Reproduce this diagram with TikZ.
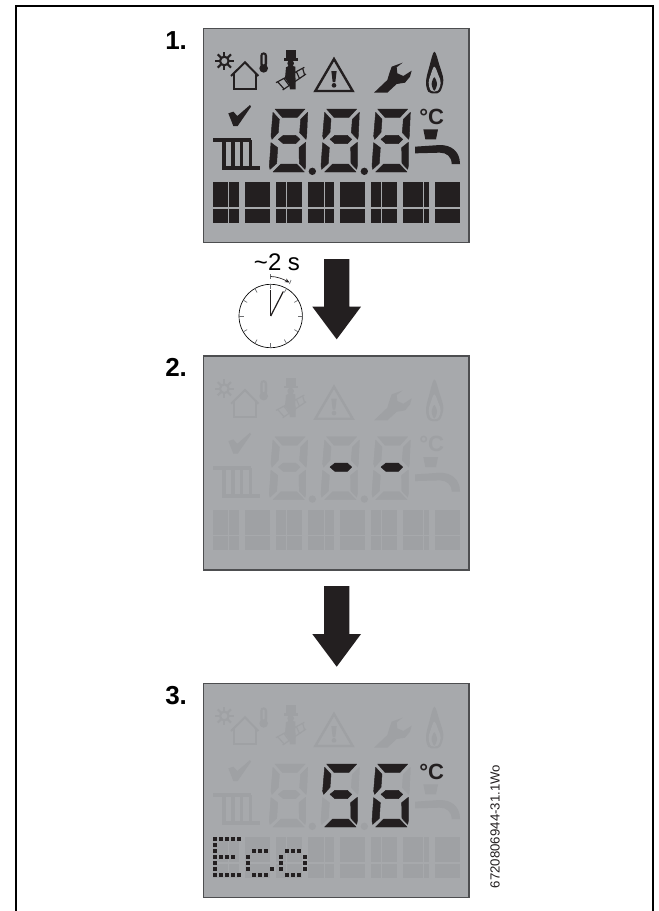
\documentclass[tikz,border=0pt]{standalone}
\usepackage{fontspec}
\setmainfont{Liberation Sans}
\usetikzlibrary{arrows.meta,calc}
\definecolor{lcdbg}{HTML}{A7A9AC}
\definecolor{lcdedge}{HTML}{4D4E50}
\definecolor{lcdghost}{HTML}{9FA1A4}
\definecolor{lcdink}{HTML}{231F20}
\definecolor{tickgrey}{HTML}{6D6E71}
\tikzset{
  panelbox/.style={fill=lcdbg,draw=lcdedge,line width=1pt},
  steplabel/.style={font=\fontsize{19.5}{20}\selectfont\bfseries,anchor=base west,inner sep=0pt,text=black},
  bigarrow/.style={fill=lcdink,draw=none},
  zoomunits/.style={x=.25pt,y=-.25pt}
}
% seven-segment paths, local coordinates
\def\pT{(30,27)--(120,27)--(97,52)--(52,52)--cycle}
\def\pUL{(24,37)--(43,58)--(40,97)--(21,118)--(18,108)--cycle}
\def\pUR{(128,37)--(125,108)--(123,118)--(104,98)--(107,58)--cycle}
\def\pM{(40,118)--(55,106)--(92,106)--(105,118)--(92,131)--(55,131)--cycle}
\def\pLL{(18,128)--(38,143)--(35,190)--(15,208)--(13,198)--cycle}
\def\pLR{(122,127)--(122,198)--(120,208)--(103,190)--(102,143)--cycle}
\def\pB{(48,192)--(95,192)--(118,216)--(24,216)--cycle}
\newcommand\dseg[3]{\filldraw[#1,shift={(#2,270)},line width=.35pt,line join=round] #3;}
\newcommand\lcdghostdigit[2]{%
  \foreach \s in {\pT,\pUL,\pUR,\pM,\pLL,\pLR,\pB}{\dseg{#1}{#2}{\s}}}
\newcommand\lcdart[1]{%
 \begin{scope}[color=#1]
  % sun
  \draw[line width=1.6pt] (223,153) circle (13);
  \foreach \a in {0,45,...,315}{\draw[line width=1.6pt] (223,153) ++(\a:13) -- ++(\a:15);}
  % house
  \draw[line width=1.5pt,line join=miter] (243,198)--(285,157)--(325,198);
  \draw[line width=1.5pt] (253,188)--(253,238)--(317,238)--(317,188);
  % thermometer
  \fill[rounded corners=2.4pt] (331,127) rectangle (351,172);
  \fill (341,175) circle (13);
  \fill[lcdbg,rounded corners=.6pt] (338,134) rectangle (344,163);
  % sweep
  \fill (409,120) rectangle (437,146);
  \fill (401,145) rectangle (443,152);
  \fill (422,160) circle (10);
  \fill (408,172)--(420,166)--(436,170)--(437,238)--(420,238)--(417,222)--(405,205)--cycle;
  \draw[line width=.9pt] (378,218)--(463,172);
  \draw[line width=.9pt] (398,240)--(468,192);
  \foreach \t in {.06,.28,.5,.72,.94}{\draw[line width=.9pt] ($(378,218)!\t!(463,172)$)--($(398,240)!\t!(468,192)$);}
  % warning sign
  \draw[line width=1.8pt,line join=miter] (552,147)--(496,243)--(608,243)--cycle;
  \fill (544,183)--(560,183)--(556,216)--(548,216)--cycle;
  \fill (552,226) circle (7);
  % wrench
  \fill (672,248)--(712,210)--(718,190)--(725,170)--(758,158)--(740,172)--(742,190)--(760,198)--(785,182)--(780,200)--(765,218)--(740,222)--(712,248)--cycle;
  % flame
  \fill plot[smooth cycle,tension=.6] coordinates {(853,125)(868,165)(880,210)(870,245)(853,250)(835,245)(828,215)(838,170)};
  \fill[lcdbg] plot[smooth cycle,tension=.6] coordinates {(853,170)(865,195)(872,218)(863,242)(843,242)(836,218)(842,195)};
  \fill plot[smooth cycle,tension=.6] coordinates {(853,202)(861,222)(853,242)(845,222)};
  % check mark
  \fill (235,310)--(250,305)--(262,318)--(300,285)--(303,290)--(263,348)--(250,348)--cycle;
  % radiator
  \fill (189,385) rectangle (303,397);
  \foreach \x in {217,244,270,296}{\fill (\x,390) rectangle (\x+10,472);}
  \fill (215,468) rectangle (330,480);
  % cup and tap
  \fill (820,358)--(864,358)--(858,388)--(826,388)--cycle;
  \fill (795,410)--(870,405) .. controls (905,405) and (930,425) .. (930,462) -- (905,462) .. controls (905,440) and (890,428) .. (870,428) -- (795,430) -- cycle;
 \end{scope}}
\newcommand\lcdband[1]{%
  \foreach \a/\b in {189/267,285/360,379/456,474/551,570/645,663/741,759/837,855/930}{\fill[#1] (\a,517) rectangle (\b,638);}
  \foreach \a/\b in {235/238,408/411,522/525,693/696,820/823}{\fill[lcdbg] (\a,517) rectangle (\b,638);}
  \foreach \a/\b in {189/267,285/360,379/456,474/551,570/645,663/741,759/837,855/930}{\fill[lcdbg] (\a,592) rectangle (\b,596);}}
\newcommand\lcddots[1]{\fill[#1] (487,484) circle (11); \fill[#1] (643,484) circle (11);}
\newcommand\lcddeg[2]{\node[font=\fontsize{16.5}{17}\selectfont\bfseries,text=#1,inner sep=0pt] (deg#2) at (845,320) {°C};}
\newcommand\edot[2]{\fill[lcdink] (#1-6,#2-6) rectangle (#1+6,#2+6);}
\begin{document}
\begin{tikzpicture}[x=.75pt,y=-.75pt]
\useasboundingbox (0,0) rectangle (658,911);
\fill[white] (0,0) rectangle (658,911);
% outer frame
\draw[line width=1.6pt,line join=miter,black] (16,911)--(16,6)--(653,6)--(653,911);

% panel 1
\begin{scope}[zoomunits,shift={(112.5pt,-7.5pt)}]
 \draw[panelbox] (160,55) rectangle (957,697);
 \lcdart{lcdink}
 \lcdghostdigit{lcdink}{345}
 \lcdghostdigit{lcdink}{500}
 \lcdghostdigit{lcdink}{653}
 \lcddots{lcdink}
 \lcdband{lcdink}
 \lcddeg{lcdink}{A}
\end{scope}

% panel 2
\begin{scope}[zoomunits,shift={(112.5pt,-253.3pt)}]
 \draw[panelbox] (160,55) rectangle (957,697);
 \lcdart{lcdghost}
 \lcdghostdigit{lcdghost}{345}
 \lcdghostdigit{lcdghost}{500}
 \lcdghostdigit{lcdghost}{653}
 \lcddots{lcdghost}
 \lcdband{lcdghost}
 \lcddeg{lcdghost}{B}
 \dseg{lcdink}{500}{\pM}
 \dseg{lcdink}{653}{\pM}
\end{scope}

% panel 3
\begin{scope}[zoomunits,shift={(112.5pt,-498.75pt)}]
 \draw[panelbox] (160,55) rectangle (957,697);
 \lcdart{lcdghost}
 \lcdghostdigit{lcdghost}{345}
 \lcdghostdigit{lcdghost}{500}
 \lcdghostdigit{lcdghost}{653}
 \lcddots{lcdghost}
 \lcdband{lcdghost}
 \lcddeg{lcdink}{C}
 \foreach \s in {\pT,\pUL,\pM,\pLR,\pB}{\dseg{lcdink}{500}{\s}}
 \foreach \s in {\pT,\pUL,\pM,\pLL,\pLR,\pB}{\dseg{lcdink}{653}{\s}}
 % Eco dot matrix
 \foreach \x in {195,213,231,249,267}{\edot{\x}{522}\edot{\x}{630}}
 \foreach \y in {540,558,576,594,612}{\edot{195}{\y}}
 \foreach \x in {213,231,249}{\edot{\x}{576}}
 \foreach \x in {311,329,347}{\edot{\x}{558}\edot{\x}{630}}
 \foreach \y in {576,594,612}{\edot{293}{\y}}
 \edot{365}{612}
 \foreach \x in {410,428,446}{\edot{\x}{558}\edot{\x}{630}}
 \foreach \y in {576,594,612}{\edot{392}{\y}\edot{465}{\y}}
\end{scope}

% step labels
\node[steplabel] (stepone) at (165,49.3) {1.};
\node[steplabel] (steptwo) at (165,376.7) {2.};
\node[steplabel] (stepthree) at (165,704.3) {3.};

% arrows
\fill[bigarrow] (324,259)--(349.3,259)--(349.3,306.7)--(361,306.7)--(336.7,339.3)--(312.3,306.7)--(324,306.7)--cycle;
\fill[bigarrow] (324,586)--(349.3,586)--(349.3,634)--(361,634)--(336.7,666.7)--(312.3,634)--(324,634)--cycle;

% clock
\coordinate (clk) at (270.7,316);
\draw[black,line width=.5pt,fill=white] (clk) circle (31.7);
\foreach \a in {0,30,...,330}{\draw[tickgrey,line width=.5pt] (clk) ++(\a:31.7) -- ++(\a:-4.5);}
\draw[lcdink,line width=1.1pt] (clk) -- ++(0,-26);
\draw[lcdink,line width=.9pt] (clk) -- (283.3,291.5);
\node[font=\fontsize{18}{19}\selectfont,anchor=base,inner sep=0pt] (clocklabel) at (277,270) {\textasciitilde 2 s};
\coordinate (arcstart) at (270.7,276.5);
\coordinate (arcend) at (289.5,282.5);
\draw[tickgrey,line width=.5pt] (270.7,274)--(270.7,279.3);
\draw[tickgrey,line width=.5pt] (291,280)--(289.5,284);
\draw[lcdink,line width=.5pt,-{Stealth[length=3.5pt,width=3pt]}] (arcstart) .. controls (277,276.5) and (283,279) .. (arcend);

% reference code
\node[rotate=90,font=\fontsize{9.9}{10}\selectfont,inner sep=0pt,text=lcdink] (refcode) at (495,826.5) {6720806944-31.1Wo};
\end{tikzpicture}
\end{document}
